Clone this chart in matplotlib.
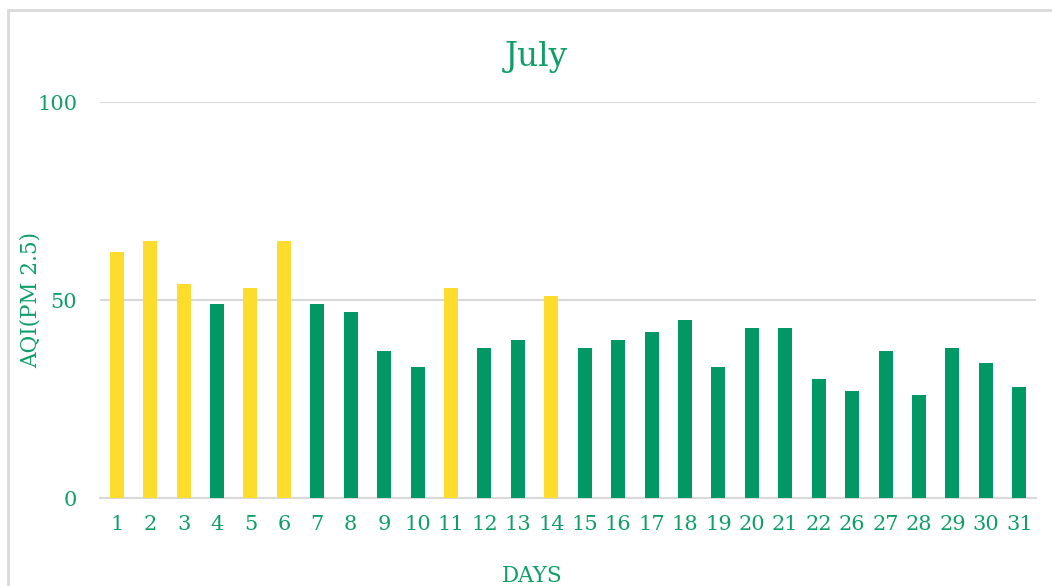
import matplotlib.pyplot as plt
from matplotlib.patches import Rectangle

# Dados de julho
days = ['1', '2', '3', '4', '5', '6', '7', '8', '9', '10', '11', '12', '13', '14',
        '15', '16', '17', '18', '19', '20', '21', '22', '26', '27', '28', '29', '30', '31']
aqi = [62, 65, 54, 49, 53, 65, 49, 47, 37, 33, 53, 38, 40, 51,
       38, 40, 42, 45, 33, 43, 43, 30, 27, 37, 26, 38, 34, 28]

green = '#009966'
yellow = '#FDDC2E'
text_green = '#0E9E68'
colors = [yellow if v > 50 else green for v in aqi]

plt.rcParams['font.family'] = ['DejaVu Serif']

fig = plt.figure(figsize=(10.52, 5.86), dpi=100)
ax = fig.add_axes([100/1052, 1 - 498/586, 936/1052, 396/586])

x = range(len(days))
ax.bar(x, aqi, width=0.42, color=colors, zorder=3)

ax.set_xlim(-0.5, len(days) - 0.5)
ax.set_ylim(0, 100)
ax.set_yticks([0, 50, 100])
ax.set_xticks(list(x))
ax.set_xticklabels(days)
ax.yaxis.grid(True, color='#D9D9D9', linewidth=1.5, zorder=0)
ax.tick_params(axis='both', length=0, labelsize=15, labelcolor=text_green)
ax.tick_params(axis='x', pad=12.5)
ax.tick_params(axis='y', pad=16.5)

for s in ['top', 'right', 'left']:
    ax.spines[s].set_visible(False)
ax.spines['bottom'].set_color('#D9D9D9')
ax.spines['bottom'].set_linewidth(1.5)

# Títulos dos eixos
fig.text(31/1052, 1 - 300/586, 'AQI(PM 2.5)', rotation=90, fontsize=15.5,
         color=text_green, ha='center', va='center')
fig.text(532/1052, 1 - 582/586, 'DAYS', fontsize=15.5, color=text_green,
         ha='center', va='baseline')

fig.text(536/1052, 1 - 66/586, 'July', fontsize=23.5, color=text_green,
         ha='center', va='baseline')

# Moldura do gráfico
fig.patches.append(Rectangle((8/1052, -0.1), 1.2, 1 - 10/586 + 0.1,
                             transform=fig.transFigure, fill=False,
                             edgecolor='#D9D9D9', linewidth=2))

fig.savefig('out.png', dpi=100)
